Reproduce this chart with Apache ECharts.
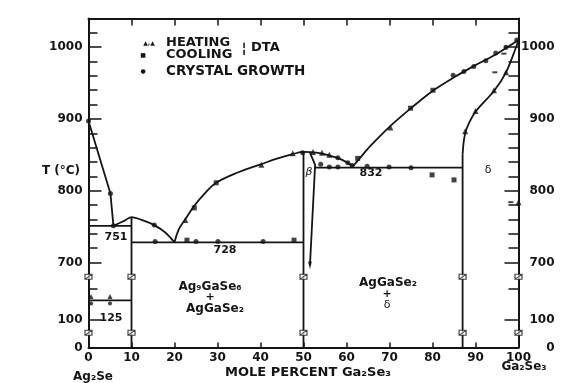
<!DOCTYPE html>
<html><head><meta charset="utf-8">
<script src="https://cdn.jsdelivr.net/npm/echarts@6/dist/echarts.min.js"></script>
<style>html,body{margin:0;padding:0;background:#fff}#c{width:566px;height:383px}</style>
</head><body><div id="c"></div>
<script>
// ---------- data (mole % Ga2Se3, temperature °C) ----------
const xTickValues = [0,10,20,30,40,50,60,70,80,90,100];
const yLabelTemps = [0,100,700,800,900,1000];
const yMinorTemps = [720,740,760,780,820,840,860,880,920,940,960,980,1020];

const ag2seLiquidus   = [[0,897],[5.1,796],[5.8,751]];
const ag9Liquidus     = [[5.8,751],[8,757],[10,763],[12.5,759],[15.3,752],[18,741],[20,728]];
const agGaSe2Liquidus = [[20,728],[21,746],[22.5,760],[24.6,779],[27,796],[29.7,811],[35,826],[40.2,837],[44,845],[47.5,851],[50,854],[53,853],[56,849],[59,843],[61.5,834]];
const deltaLiquidus   = [[61.5,834],[63.2,846],[65.5,862],[70,889],[75,915],[80,939],[85,958],[90,975],[95,991],[100,1010]];
const deltaSolvusLow  = [[87,0],[87,850]];
const deltaSolvusHigh = [[87,850],[87.3,870],[87.9,886],[90,910],[94.3,939],[97.1,965],[99.5,1001],[100,1010]];
const ag9Line         = [[10,0],[10,763]];
const agGaSe2Line     = [[50,0],[50,854]];
const betaSolvus      = [[51.5,853],[52.7,836],[51.5,655]];
const iso751 = [[0,751],[10,751]];
const iso728 = [[10,728],[50,728]];
const iso832 = [[52.7,832],[87,832]];
const iso125 = [[0,125],[10,125]];

const heating = [[22.5,759],[40.2,836],[47.5,852],[52.2,854],[54.3,853],[56,850],[70.2,888],[87.6,883],[90,911],[94.3,940],[97.1,965],[100,784]];
const cooling = [[24.6,776],[29.7,811],[62.6,845],[74.9,915],[80.1,940],[79.9,822],[85,815],[47.8,731],[22.9,731]];
const dashes  = [[96.6,991],[94.5,965],[98.2,784]];
const growth  = [[0,897],[5.1,796],[5.8,751],[15.3,752],[15.5,729],[25,729],[30.1,729],[40.6,729],[49.8,853],[58,846],[60.3,839],[54,837],[56,833],[58,833],[61.3,835],[64.8,834],[69.9,833],[75,832],[84.8,961],[87.3,966],[89.6,973],[92.4,981],[94.7,992],[97.1,1000],[99.6,1010]];
const trans125Up  = [[0.6,125],[5,125]];
const trans125Low = [[0.6,125],[5,125]];
const breakXs = [0,10,50,87,100];
const betaArrow = [[51.5,655]];

// ---------- broken temperature axis ----------
const U0 = 581.4, UMAX = 1040;
const BREAK_U = [602, 680];
function toU(T){
  if (T >= 700) return T;
  if (T >= 125) return 647 + (T-125)*(53/575);
  if (T >= 100) return 620 + (T-100)*(27/25);
  return U0 + T*(38.6/100);
}
const mapPts = a => a.map(p => [p[0], toU(p[1])]);
const labelU = yLabelTemps.map(toU);
const minorU = yMinorTemps.map(toU).concat([663.7]);
const majorU = [100,700,800,900,1000].map(toU);
function fmtU(v){
  let best = 0, bd = 1e9;
  labelU.forEach((u,i)=>{ const d=Math.abs(u-v); if(d<bd){bd=d;best=i;} });
  return String(yLabelTemps[best]);
}

const INK = '#141414';
const FONT = 'DejaVu Sans';
const lineSeries = (data, smooth) => ({
  type:'line', data: mapPts(data), showSymbol:false, symbol:'none', smooth: smooth||false,
  lineStyle:{color:INK, width:1.8}, z:3, silent:true
});
const scatter = (data, symbol, size, extra) => Object.assign({
  type:'scatter', data: mapPts(data), symbol, symbolSize:size,
  itemStyle:{color:INK}, z:5, silent:true
}, extra||{});

const yBase = {type:'value', min:U0, max:UMAX, splitLine:{show:false}, gridIndex:0};
const chart = echarts.init(document.getElementById('c'));
chart.setOption({
  animation:false,
  backgroundColor:'#fff',
  grid:{left:88.5, right:47.5, top:18.5, bottom:35.5},
  xAxis:[
    {type:'value', min:0, max:100, interval:10, position:'bottom',
     axisLine:{lineStyle:{color:INK,width:2}},
     axisTick:{inside:true,length:5,lineStyle:{color:INK,width:1.5}},
     axisLabel:{margin:4,color:INK,fontFamily:FONT,fontWeight:'bold',fontSize:12},
     splitLine:{show:false}},
    {type:'value', min:0, max:100, interval:10, position:'top',
     axisLine:{lineStyle:{color:INK,width:2}},
     axisTick:{inside:true,length:7,lineStyle:{color:INK,width:1.5}},
     axisLabel:{show:false}, splitLine:{show:false}}
  ],
  yAxis:[
    Object.assign({}, yBase, {position:'left',
      axisLine:{show:true,lineStyle:{color:INK,width:2}},
      axisTick:{show:true,inside:true,length:13,customValues:majorU,lineStyle:{color:INK,width:1.5}},
      axisLabel:{customValues:labelU,formatter:fmtU,margin:6,color:INK,fontFamily:FONT,fontWeight:'bold',fontSize:12}}),
    Object.assign({}, yBase, {position:'left',
      axisLine:{show:false},
      axisTick:{show:true,inside:true,length:9,customValues:minorU,lineStyle:{color:INK,width:1.5}},
      axisLabel:{show:false}}),
    Object.assign({}, yBase, {position:'right',
      axisLine:{show:true,lineStyle:{color:INK,width:2}},
      axisTick:{show:true,inside:true,length:14,customValues:majorU,lineStyle:{color:INK,width:1.5}},
      axisLabel:{customValues:labelU,formatter:fmtU,margin:36,align:'right',color:INK,fontFamily:FONT,fontWeight:'bold',fontSize:12}}),
    Object.assign({}, yBase, {position:'right',
      axisLine:{show:false},
      axisTick:{show:true,inside:true,length:10,customValues:minorU,lineStyle:{color:INK,width:1.5}},
      axisLabel:{show:false}})
  ],
  series:[
    lineSeries(ag2seLiquidus),
    lineSeries(ag9Liquidus, 0.2),
    lineSeries(agGaSe2Liquidus, 0.4),
    lineSeries(deltaLiquidus, 0.3),
    lineSeries(deltaSolvusLow),
    lineSeries(deltaSolvusHigh, 0.3),
    lineSeries(ag9Line),
    lineSeries(agGaSe2Line),
    lineSeries(betaSolvus),
    lineSeries(iso751), lineSeries(iso728), lineSeries(iso832), lineSeries(iso125),
    scatter(heating,'triangle',6),
    scatter(cooling,'rect',5),
    scatter(dashes,'rect',[5,2]),
    scatter(growth,'circle',5),
    scatter(trans125Up,'triangle',5,{symbolOffset:[0,-4]}),
    scatter(trans125Low,'circle',4,{symbolOffset:[0,3]}),
    scatter(betaArrow,'triangle',[4,8],{symbolRotate:180}),
    {type:'scatter', silent:true, z:6,
     data: breakXs.flatMap(x => BREAK_U.map(u => [x,u])),
     symbol:'path://M0,0L10,0L10,6L0,6ZM0,6L10,0', symbolSize:[7,5],
     itemStyle:{color:'#fff', borderColor:INK, borderWidth:1}}
  ],
  graphic:[
    {type:'text', x:61, y:171, style:{text:'T (°C)', font:'bold 12px "DejaVu Sans"', fill:INK, align:'center', verticalAlign:'middle'}},
    {type:'text', x:93, y:377, style:{text:'Ag₂Se', font:'bold 12px "DejaVu Sans"', fill:INK, align:'center', verticalAlign:'middle'}},
    {type:'text', x:308, y:373, style:{text:'MOLE PERCENT Ga₂Se₃', font:'bold 13px "DejaVu Sans"', fill:INK, align:'center', verticalAlign:'middle'}},
    {type:'text', x:524, y:367, style:{text:'Ga₂Se₃', font:'bold 12px "DejaVu Sans"', fill:INK, align:'center', verticalAlign:'middle'}},
    {type:'text', x:116, y:237, style:{text:'751', font:'bold 11px "DejaVu Sans"', fill:INK, align:'center', verticalAlign:'middle'}},
    {type:'text', x:225, y:250, style:{text:'728', font:'bold 11px "DejaVu Sans"', fill:INK, align:'center', verticalAlign:'middle'}},
    {type:'text', x:111, y:318, style:{text:'125', font:'bold 11px "DejaVu Sans"', fill:INK, align:'center', verticalAlign:'middle'}},
    {type:'text', x:371, y:173, style:{text:'832', font:'bold 11px "DejaVu Sans"', fill:INK, align:'center', verticalAlign:'middle'}},
    {type:'text', x:309, y:172, style:{text:'β', font:'italic 11px "DejaVu Sans"', fill:INK, align:'center', verticalAlign:'middle'}},
    {type:'text', x:488, y:170, style:{text:'δ', font:'11px "DejaVu Sans"', fill:INK, align:'center', verticalAlign:'middle'}},
    {type:'text', x:210, y:287, style:{text:'Ag₉GaSe₆', font:'bold 12px "DejaVu Sans"', fill:INK, align:'center', verticalAlign:'middle'}},
    {type:'text', x:210, y:297, style:{text:'+', font:'bold 11px "DejaVu Sans"', fill:INK, align:'center', verticalAlign:'middle'}},
    {type:'text', x:215, y:309, style:{text:'AgGaSe₂', font:'bold 12px "DejaVu Sans"', fill:INK, align:'center', verticalAlign:'middle'}},
    {type:'text', x:388, y:283, style:{text:'AgGaSe₂', font:'bold 12px "DejaVu Sans"', fill:INK, align:'center', verticalAlign:'middle'}},
    {type:'text', x:387, y:294, style:{text:'+', font:'bold 11px "DejaVu Sans"', fill:INK, align:'center', verticalAlign:'middle'}},
    {type:'text', x:387, y:305, style:{text:'δ', font:'11px "DejaVu Sans"', fill:INK, align:'center', verticalAlign:'middle'}},
    {type:'text', x:149, y:43, style:{text:'▲,▲', font:'bold 6px "DejaVu Sans"', fill:INK, align:'center', verticalAlign:'middle'}},
    {type:'text', x:143, y:55, style:{text:'■', font:'bold 6px "DejaVu Sans"', fill:INK, align:'center', verticalAlign:'middle'}},
    {type:'text', x:143, y:71, style:{text:'●', font:'bold 6px "DejaVu Sans"', fill:INK, align:'center', verticalAlign:'middle'}},
    {type:'text', x:166, y:43, style:{text:'HEATING', font:'bold 13px "DejaVu Sans"', fill:INK, align:'left', verticalAlign:'middle'}},
    {type:'text', x:166, y:55, style:{text:'COOLING', font:'bold 13px "DejaVu Sans"', fill:INK, align:'left', verticalAlign:'middle'}},
    {type:'text', x:244, y:49, style:{text:'¦', font:'bold 14px "DejaVu Sans"', fill:INK, align:'center', verticalAlign:'middle'}},
    {type:'text', x:251, y:48, style:{text:'DTA', font:'bold 13px "DejaVu Sans"', fill:INK, align:'left', verticalAlign:'middle'}},
    {type:'text', x:166, y:71, style:{text:'CRYSTAL GROWTH', font:'bold 13.5px "DejaVu Sans"', fill:INK, align:'left', verticalAlign:'middle'}}
  ]
});
</script></body></html>
